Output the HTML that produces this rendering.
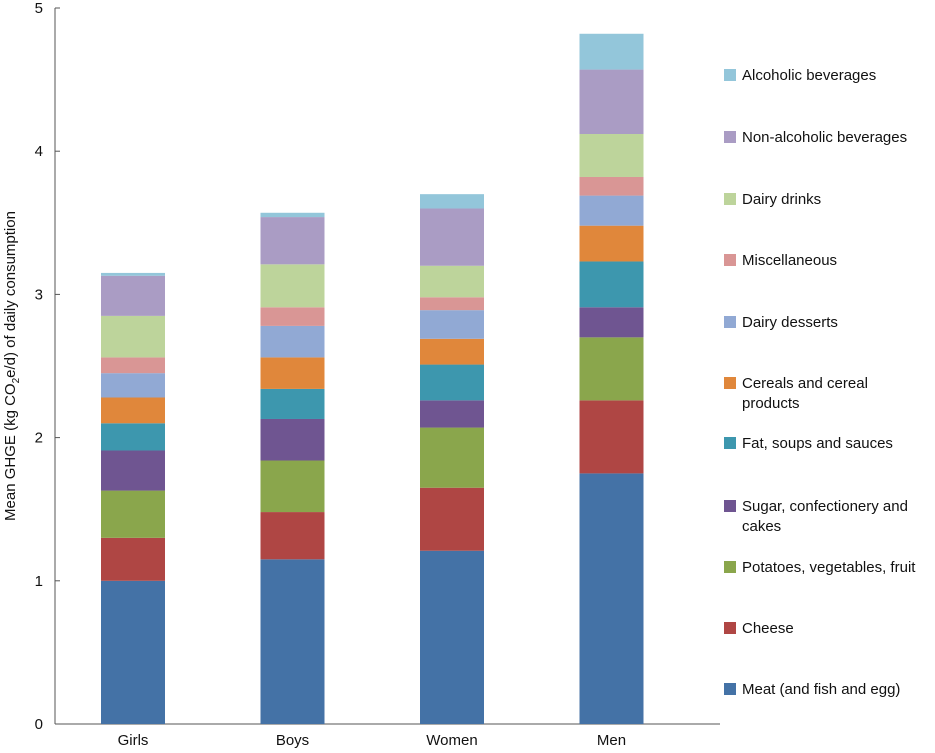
<!DOCTYPE html>
<html><head><meta charset="utf-8"><style>
body{margin:0;background:#fff;}
svg text{font-family:"Liberation Sans",Arial,sans-serif;fill:#111;}
</style></head><body>
<svg id="chart" width="935" height="748" xmlns="http://www.w3.org/2000/svg">
<g id="axes"></g><g id="bars"></g><g id="legend"></g>
<text transform="translate(15,366) rotate(-90)" text-anchor="middle" font-size="15">Mean GHGE (kg CO<tspan font-size="10" dy="4">2</tspan><tspan dy="-4">e/d) of daily consumption</tspan></text>
</svg>
<script>
const categories=["Girls","Boys","Women","Men"];
const seriesNames=["Meat (and fish and egg)","Cheese","Potatoes, vegetables, fruit","Sugar, confectionery and cakes","Fat, soups and sauces","Cereals and cereal products","Dairy desserts","Miscellaneous","Dairy drinks","Non-alcoholic beverages","Alcoholic beverages"];
const colors=["#4472a6","#af4644","#8aa64c","#6f5591","#3d97ae","#e0873b","#91a9d4","#d99695","#bdd49b","#aa9cc4","#93c6da"];
const meat=[1.00,1.15,1.21,1.75];
const cheese=[0.30,0.33,0.44,0.51];
const potatoes=[0.33,0.36,0.42,0.44];
const sugar=[0.28,0.29,0.19,0.21];
const fat=[0.19,0.21,0.25,0.32];
const cereals=[0.18,0.22,0.18,0.25];
const dairyDesserts=[0.17,0.22,0.20,0.21];
const misc=[0.11,0.13,0.09,0.13];
const dairyDrinks=[0.29,0.30,0.22,0.30];
const nonAlcoholic=[0.28,0.33,0.40,0.45];
const alcoholic=[0.02,0.03,0.10,0.25];
const series=[meat,cheese,potatoes,sugar,fat,cereals,dairyDesserts,misc,dairyDrinks,nonAlcoholic,alcoholic];
const yTicks=[0,1,2,3,4,5];
const NS="http://www.w3.org/2000/svg";
const y0=724,yTop=8,yMax=5,axisX=55,axisRight=720;
const y=v=>y0-(v/yMax)*(y0-yTop);
const bandW=159.5,barW=64,firstCenter=133;
const xc=i=>firstCenter+i*bandW;
function mk(tag,attrs,parent){const e=document.createElementNS(NS,tag);for(const k in attrs)e.setAttribute(k,attrs[k]);parent.appendChild(e);return e;}
const axes=document.getElementById('axes'),bars=document.getElementById('bars'),legend=document.getElementById('legend');
let l=mk('line',{x1:axisX,x2:axisX,y1:yTop,y2:y0,stroke:'#555','stroke-width':1},axes);


l=mk('line',{x1:axisX,x2:axisRight,y1:y0,y2:y0,stroke:'#555','stroke-width':1},axes);


yTicks.forEach(t=>{
  const tk=mk('line',{x1:axisX,x2:axisX+5,y1:y(t),y2:y(t),stroke:'#555'},axes);
  
  
  const tx=mk('text',{x:axisX-12,y:y(t)+5,'text-anchor':'end','font-size':15},axes);
  tx.textContent=t;
  
  
});
categories.forEach((c,i)=>{
  const tk=mk('line',{x1:xc(i),x2:xc(i),y1:y0,y2:y0-5,stroke:'#555'},axes);
  
  
  const tx=mk('text',{x:xc(i),y:y0+21,'text-anchor':'middle','font-size':15},axes);
  tx.textContent=c;
  
  
  let cum=0;
  series.forEach((s,j)=>{
    const v=s[i];
    const r=mk('rect',{x:xc(i)-barW/2,y:y(cum+v),width:barW,height:y(cum)-y(cum+v),fill:colors[j]},bars);
    
    
    cum+=v;
  });
});
const legY=[75,137,199,260,322,383,443,506,567,628,689];
const legLines=[["Meat (and fish and egg)"],["Cheese"],["Potatoes, vegetables, fruit"],["Sugar, confectionery and","cakes"],["Fat, soups and sauces"],["Cereals and cereal","products"],["Dairy desserts"],["Miscellaneous"],["Dairy drinks"],["Non-alcoholic beverages"],["Alcoholic beverages"]];
for(let k=0;k<11;k++){
  const j=10-k;
  const g=mk('g',{},legend);
  
  
  mk('rect',{x:724,y:legY[k]-6,width:12,height:12,fill:colors[j]},g);
  const lines=legLines[j];
  lines.forEach((ln,m)=>{
    const t=mk('text',{x:742,y:legY[k]+5+m*20,'font-size':15},g);
    t.textContent=ln;
  });
}
</script>
</body></html>
